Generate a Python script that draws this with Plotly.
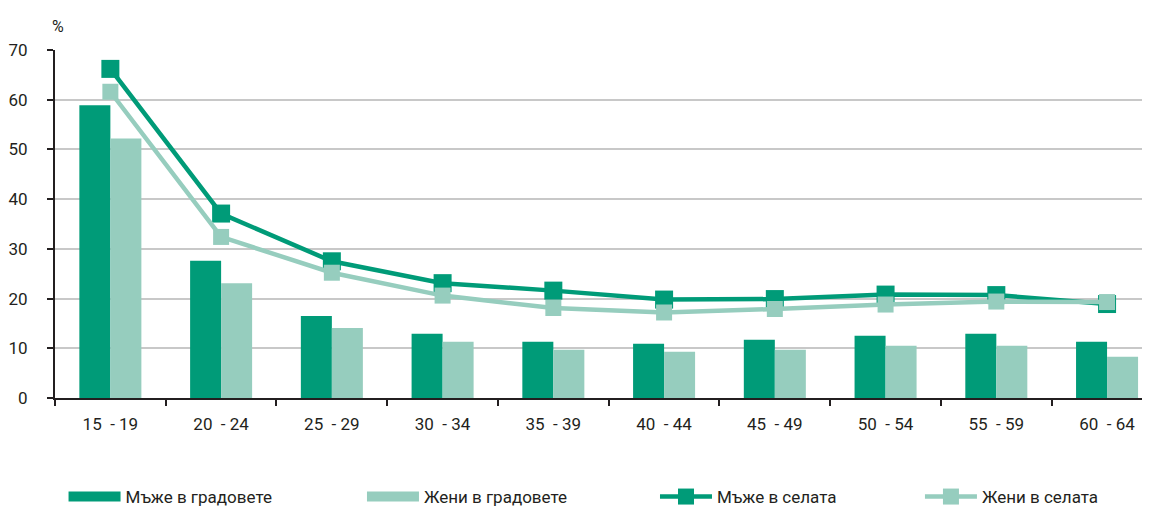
import plotly.graph_objects as go

categories = ["15\u00a0 - 19", "20\u00a0 - 24", "25\u00a0 - 29", "30\u00a0 - 34", "35\u00a0 - 39",
              "40\u00a0 - 44", "45\u00a0 - 49", "50\u00a0 - 54", "55\u00a0 - 59", "60\u00a0 - 64"]
men_towns = [58.9, 27.6, 16.5, 12.9, 11.3, 10.9, 11.7, 12.5, 12.9, 11.3]
women_towns = [52.2, 23.1, 14.1, 11.3, 9.7, 9.3, 9.7, 10.5, 10.5, 8.3]
men_villages = [66.2, 37.1, 27.5, 23.1, 21.6, 19.8, 19.9, 20.8, 20.7, 18.9]
women_villages = [61.6, 32.4, 25.2, 20.6, 18.1, 17.2, 17.9, 18.8, 19.4, 19.3]

names = ["Мъже в градовете", "Жени в градовете", "Мъже в селата", "Жени в селата"]
DARK = "#009b78"
LIGHT = "#96cdbe"
TEXT = "#231f20"
FONT = "Roboto, Liberation Sans Narrow, sans-serif"

fig = go.Figure()
fig.add_trace(go.Bar(x=categories, y=men_towns, name=names[0], showlegend=False,
                     legendgroup="mt", marker=dict(color=DARK, line_width=0)))
fig.add_trace(go.Bar(x=categories, y=women_towns, name=names[1], showlegend=False,
                     legendgroup="wt", marker=dict(color=LIGHT, line_width=0)))
# legend swatches for the bar series (wide boxes as in the original)
fig.add_trace(go.Scatter(x=[None], y=[None], name=names[0], mode="lines", legendgroup="mt",
                         legend="legend", line=dict(color=DARK, width=15), hoverinfo="skip"))
fig.add_trace(go.Scatter(x=[None], y=[None], name=names[1], mode="lines", legendgroup="wt",
                         legend="legend2", line=dict(color=LIGHT, width=15), hoverinfo="skip"))
fig.add_trace(go.Scatter(x=categories, y=men_villages, name=names[2], mode="lines+markers",
                         legend="legend3", line=dict(color=DARK, width=4.5),
                         marker=dict(symbol="square", size=18, color=DARK)))
fig.add_trace(go.Scatter(x=categories, y=women_villages, name=names[3], mode="lines+markers",
                         legend="legend4", line=dict(color=LIGHT, width=4.5),
                         marker=dict(symbol="square", size=16, color=LIGHT)))


def leg(x):
    return dict(orientation="h", xref="container", yref="container",
                x=x, xanchor="left", y=0.0374, yanchor="middle",
                font=dict(size=17, color=TEXT), itemwidth=52,
                bgcolor="rgba(0,0,0,0)", borderwidth=0)


fig.update_layout(
    width=1150, height=508,
    margin=dict(l=47, r=0, t=42, b=118, autoexpand=False),
    paper_bgcolor="white", plot_bgcolor="white",
    font=dict(family=FONT, size=17, color=TEXT),
    barmode="group", bargap=0.44, bargroupgap=0,
    showlegend=True,
    legend=leg(0.0483), legend2=leg(0.3078), legend3=leg(0.5626), legend4=leg(0.7930),
    xaxis=dict(range=[-0.5, 9.46], showgrid=False, showline=True, linecolor=TEXT, linewidth=2,
               ticks="outside", tickson="boundaries", ticklen=6, tickwidth=2, tickcolor=TEXT,
               tickfont=dict(size=17), ticklabelstandoff=10, automargin=False),
    yaxis=dict(range=[0, 70], dtick=10, showgrid=True, gridcolor="#c8c8c8", gridwidth=1.5,
               showline=True, linecolor=TEXT, linewidth=2, ticks="outside", ticklen=6,
               tickwidth=2, tickcolor=TEXT, zeroline=False, tickfont=dict(size=17),
               ticklabelstandoff=16, automargin=False),
    annotations=[dict(text="%", xref="paper", yref="paper", x=-0.0045, y=1.10,
                      xanchor="left", yanchor="top", showarrow=False,
                      font=dict(size=16, color=TEXT))],
)

fig.write_html("out.html")
